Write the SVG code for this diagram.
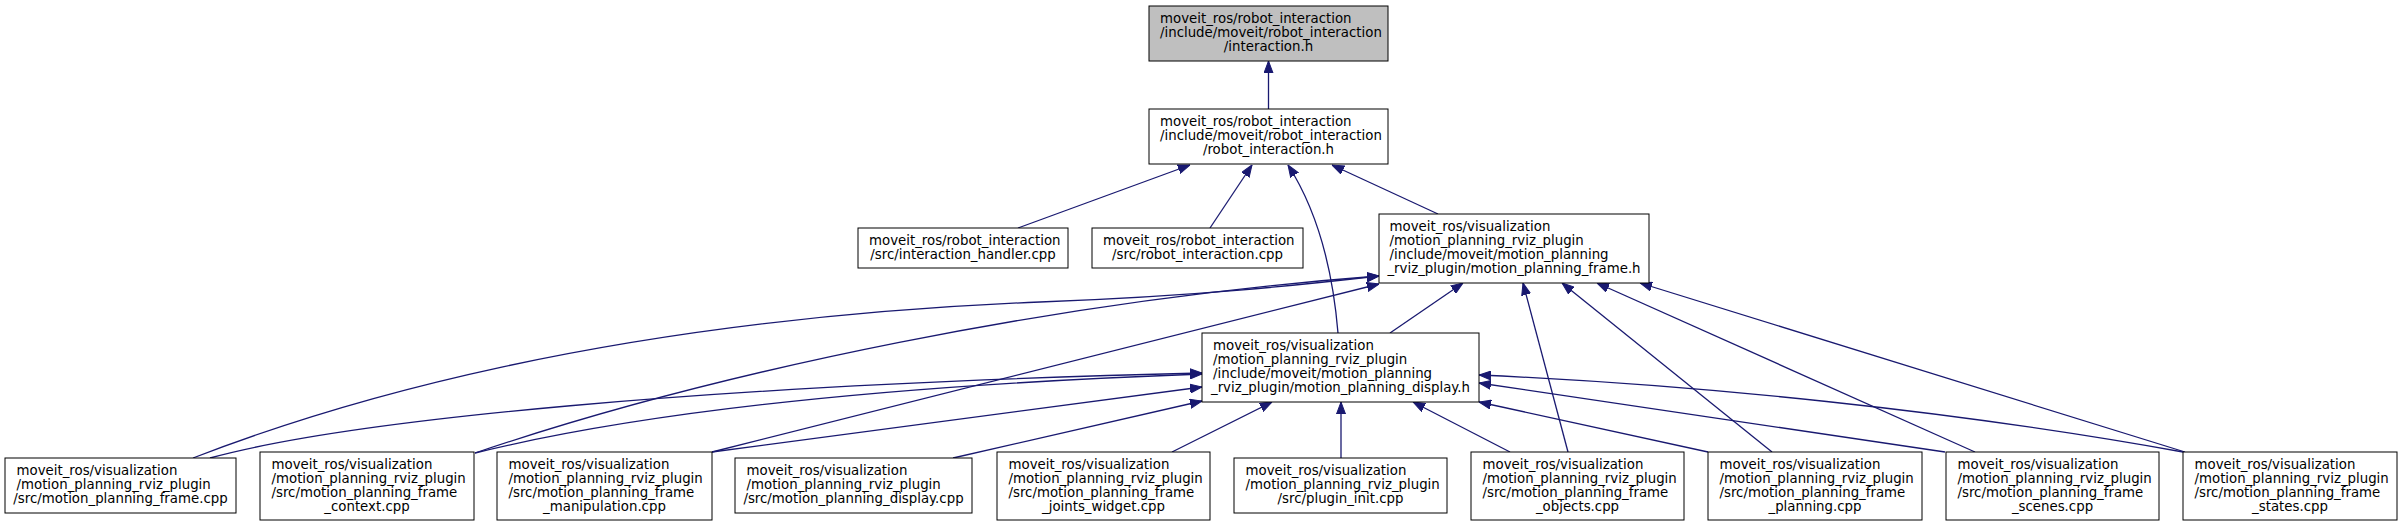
<svg xmlns="http://www.w3.org/2000/svg" width="2402" height="527" viewBox="0 0 2402 527">
<style>
.node rect{fill:#ffffff;stroke:#000000;stroke-width:1}
.root rect{fill:#bfbfbf}
text{font-family:"DejaVu Sans","Liberation Sans",sans-serif;font-size:13.33px;fill:#000000}
.c{text-anchor:middle}
.edge path{fill:none;stroke:#191970;stroke-width:1.3;marker-end:url(#arr)}
</style>
<defs>
<marker id="arr" markerUnits="userSpaceOnUse" markerWidth="12" markerHeight="10" viewBox="0 0 12 10" refX="12" refY="5" orient="auto">
<path d="M0,0.5 L12,5 L0,9.5 z" fill="#191970" stroke="#191970" stroke-width="1"/>
</marker>
</defs>
<rect x="0" y="0" width="2402" height="527" fill="#ffffff"/>

<g id="edges" class="edge">
<path d="M1268.5,109 L1268.5,61"/>
<path d="M1018,228 L1190,165"/>
<path d="M1210,228 L1252,165"/>
<path d="M1338,333 C1334,285 1322,218 1288,165"/>
<path d="M1438,214 L1332,165"/>
<path d="M1390,333 L1463,283"/>
<path d="M1568,452 L1523,283"/>
<path d="M1772,452 L1562,283"/>
<path d="M1975,452 L1597,283"/>
<path d="M2185,452 L1640,283"/>
<path d="M193,458 C330,405 600,320 1040,302 C1200,296 1300,285 1379,276"/>
<path d="M475,453 C720,370 1060,300 1379,276"/>
<path d="M712,452 L1379,284"/>
<path d="M210,458 C350,420 700,385 1202,373"/>
<path d="M475,453 C650,410 900,385 1202,374"/>
<path d="M712,452 L1202,387"/>
<path d="M953,458 L1202,401"/>
<path d="M1172,452 L1272,402"/>
<path d="M1341,458 L1341,402"/>
<path d="M1510,452 L1413,402"/>
<path d="M1708,452 L1479,402"/>
<path d="M1945,452 L1479,383"/>
<path d="M2183,452 C1950,410 1700,385 1479,375"/>
</g>

<g id="n_interaction_h" class="node root">
<rect x="1149" y="6" width="239" height="55"/>
<text x="1160" y="23">moveit_ros/robot_interaction</text>
<text x="1160" y="37">/include/moveit/robot_interaction</text>
<text class="c" x="1268.5" y="51">/interaction.h</text>
</g>

<g id="n_robot_interaction_h" class="node">
<rect x="1149" y="109" width="239" height="55"/>
<text x="1160" y="126">moveit_ros/robot_interaction</text>
<text x="1160" y="140">/include/moveit/robot_interaction</text>
<text class="c" x="1268.5" y="154">/robot_interaction.h</text>
</g>

<g id="n_interaction_handler_cpp" class="node">
<rect x="858" y="228" width="210" height="40"/>
<text x="869" y="245">moveit_ros/robot_interaction</text>
<text class="c" x="963" y="259">/src/interaction_handler.cpp</text>
</g>

<g id="n_robot_interaction_cpp" class="node">
<rect x="1092" y="228" width="211" height="40"/>
<text x="1103" y="245">moveit_ros/robot_interaction</text>
<text class="c" x="1197.5" y="259">/src/robot_interaction.cpp</text>
</g>

<g id="n_motion_planning_frame_h" class="node">
<rect x="1379" y="214" width="270" height="69"/>
<text x="1389.5" y="231">moveit_ros/visualization</text>
<text x="1389.5" y="245">/motion_planning_rviz_plugin</text>
<text x="1389.5" y="259">/include/moveit/motion_planning</text>
<text class="c" x="1514" y="273">_rviz_plugin/motion_planning_frame.h</text>
</g>

<g id="n_motion_planning_display_h" class="node">
<rect x="1202" y="333" width="277" height="69"/>
<text x="1213" y="350">moveit_ros/visualization</text>
<text x="1213" y="364">/motion_planning_rviz_plugin</text>
<text x="1213" y="378">/include/moveit/motion_planning</text>
<text class="c" x="1340.5" y="392">_rviz_plugin/motion_planning_display.h</text>
</g>

<g id="n_frame_cpp" class="node">
<rect x="5" y="458" width="231" height="55"/>
<text x="16.5" y="475">moveit_ros/visualization</text>
<text x="16.5" y="489">/motion_planning_rviz_plugin</text>
<text class="c" x="120.5" y="503">/src/motion_planning_frame.cpp</text>
</g>

<g id="n_frame_context_cpp" class="node">
<rect x="260" y="452" width="214" height="68"/>
<text x="271.5" y="469">moveit_ros/visualization</text>
<text x="271.5" y="483">/motion_planning_rviz_plugin</text>
<text x="271.5" y="497">/src/motion_planning_frame</text>
<text class="c" x="367" y="511">_context.cpp</text>
</g>

<g id="n_frame_manipulation_cpp" class="node">
<rect x="497" y="452" width="215" height="68"/>
<text x="508.5" y="469">moveit_ros/visualization</text>
<text x="508.5" y="483">/motion_planning_rviz_plugin</text>
<text x="508.5" y="497">/src/motion_planning_frame</text>
<text class="c" x="604.5" y="511">_manipulation.cpp</text>
</g>

<g id="n_display_cpp" class="node">
<rect x="735" y="458" width="237" height="55"/>
<text x="746.5" y="475">moveit_ros/visualization</text>
<text x="746.5" y="489">/motion_planning_rviz_plugin</text>
<text class="c" x="853.5" y="503">/src/motion_planning_display.cpp</text>
</g>

<g id="n_frame_joints_widget_cpp" class="node">
<rect x="997" y="452" width="213" height="68"/>
<text x="1008.5" y="469">moveit_ros/visualization</text>
<text x="1008.5" y="483">/motion_planning_rviz_plugin</text>
<text x="1008.5" y="497">/src/motion_planning_frame</text>
<text class="c" x="1103.5" y="511">_joints_widget.cpp</text>
</g>

<g id="n_plugin_init_cpp" class="node">
<rect x="1234" y="458" width="213" height="55"/>
<text x="1245.5" y="475">moveit_ros/visualization</text>
<text x="1245.5" y="489">/motion_planning_rviz_plugin</text>
<text class="c" x="1340.5" y="503">/src/plugin_init.cpp</text>
</g>

<g id="n_frame_objects_cpp" class="node">
<rect x="1471" y="452" width="213" height="68"/>
<text x="1482.5" y="469">moveit_ros/visualization</text>
<text x="1482.5" y="483">/motion_planning_rviz_plugin</text>
<text x="1482.5" y="497">/src/motion_planning_frame</text>
<text class="c" x="1577.5" y="511">_objects.cpp</text>
</g>

<g id="n_frame_planning_cpp" class="node">
<rect x="1708" y="452" width="214" height="68"/>
<text x="1719.5" y="469">moveit_ros/visualization</text>
<text x="1719.5" y="483">/motion_planning_rviz_plugin</text>
<text x="1719.5" y="497">/src/motion_planning_frame</text>
<text class="c" x="1815" y="511">_planning.cpp</text>
</g>

<g id="n_frame_scenes_cpp" class="node">
<rect x="1946" y="452" width="213" height="68"/>
<text x="1957.5" y="469">moveit_ros/visualization</text>
<text x="1957.5" y="483">/motion_planning_rviz_plugin</text>
<text x="1957.5" y="497">/src/motion_planning_frame</text>
<text class="c" x="2052.5" y="511">_scenes.cpp</text>
</g>

<g id="n_frame_states_cpp" class="node">
<rect x="2183" y="452" width="214" height="68"/>
<text x="2194.5" y="469">moveit_ros/visualization</text>
<text x="2194.5" y="483">/motion_planning_rviz_plugin</text>
<text x="2194.5" y="497">/src/motion_planning_frame</text>
<text class="c" x="2290" y="511">_states.cpp</text>
</g>
</svg>
